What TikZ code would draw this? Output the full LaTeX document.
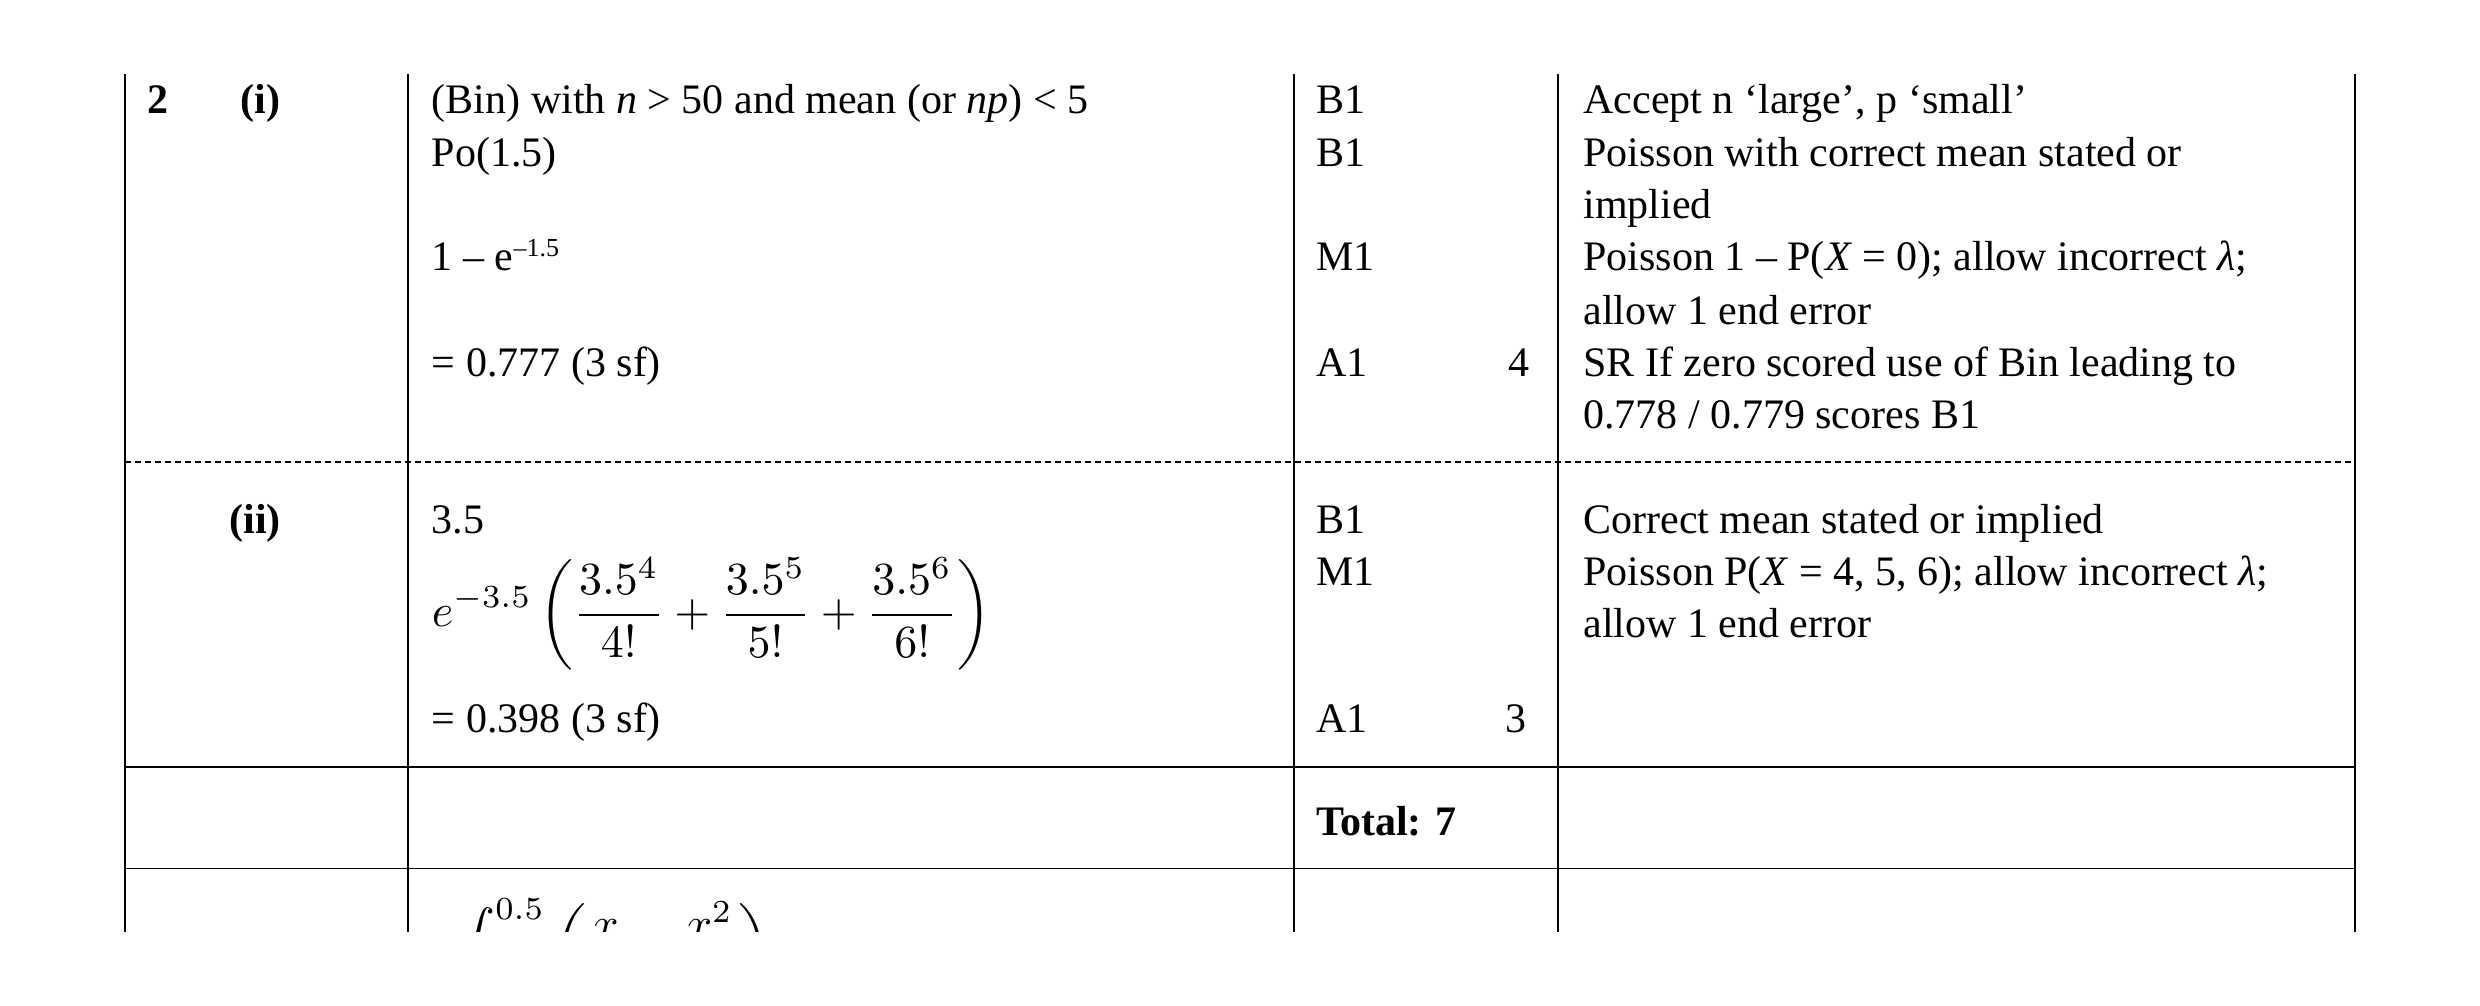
\documentclass[tikz,border=0pt]{standalone}
\usepackage{graphicx}
\usepackage{fontspec}
\setmainfont{Liberation Serif}
\begin{document}
\begin{tikzpicture}[x=1.5816pt,y=-1.5816pt,
  t/.style={anchor=base west,inner sep=0pt,font=\fontsize{42}{52}\selectfont},
  tb/.style={t,font=\fontsize{42}{52}\selectfont\bfseries},
  rule/.style={line width=1.6pt},
  dashrule/.style={line width=1.6pt,dash pattern=on 6pt off 4pt}]
\useasboundingbox (0,0) rectangle (1568,636);
\foreach \x in {79,258,818,985,1489} \draw[rule] (\x,47) -- (\x,589);
\draw[dashrule] (79,292) -- (1489,292);
\draw[rule] (79,485) -- (1489,485);
\draw[rule] (79,549) -- (1489,549);
% column 1
\node[tb] (q) at (93,72) {2};
\node[tb] (pi) at (152,72) {(i)};
\node[tb] (pii) at (145,337) {(ii)};
% column 2
\node[t] (a1) at (273,72) {(Bin) with \textit{n} > 50 and mean (or \textit{np}) < 5};
\node[t] (a2) at (273,105) {Po(1.5)};
\node[t] (a3) at (273,171) {1 – e\raisebox{14pt}{\fontsize{26}{30}\selectfont –1.5}};
\node[t] (a4) at (273,238) {= 0.777 (3 sf)};
\node[t] (b1) at (273,337) {3.5};
\node[inner sep=0pt,anchor=west] (b2) at (273,388) {\scalebox{4.6}{$\displaystyle e^{-3.5}\left(\frac{3.5^4}{4!}+\frac{3.5^5}{5!}+\frac{3.5^6}{6!}\right)$}};
\node[t] (b3) at (273,463) {= 0.398 (3 sf)};
% column 3
\node[t] (m1) at (832,72) {B1};
\node[t] (m2) at (832,105) {B1};
\node[t] (m3) at (832,171) {M1};
\node[t] (m4) at (832,238) {A1};
\node[t,anchor=base east] (m5) at (967,238) {4};
\node[t] (n1) at (832,337) {B1};
\node[t] (n2) at (832,370) {M1};
\node[t] (n3) at (832,463) {A1};
\node[t,anchor=base east] (n4) at (965,463) {3};
\node[tb] (tot) at (832,528) {Total: 7};
% column 4
\node[t] (c1) at (1001,72) {Accept n ‘large’, p ‘small’};
\node[t] (c2) at (1001,105) {Poisson with correct mean stated or};
\node[t] (c3) at (1001,138) {implied};
\node[t] (c4) at (1001,171) {Poisson 1 – P(\textit{X} = 0); allow incorrect \textit{λ};};
\node[t] (c5) at (1001,205) {allow 1 end error};
\node[t] (c6) at (1001,238) {SR If zero scored use of Bin leading to};
\node[t] (c7) at (1001,271) {0.778 / 0.779 scores B1};
\node[t] (d1) at (1001,337) {Correct mean stated or implied};
\node[t] (d2) at (1001,370) {Poisson P(\textit{X} = 4, 5, 6); allow incorrect \textit{λ};};
\node[t] (d3) at (1001,403) {allow 1 end error};
% clipped partial formula
\begin{scope}
\clip (258,549) rectangle (818,589);
\node[inner sep=0pt,anchor=north west] (e1) at (284,568) {\scalebox{4.6}{$\displaystyle \int_0^{0.5}\left(\frac{x}{2}+\frac{x^2}{2}\right)$}};
\end{scope}
\end{tikzpicture}
\end{document}
